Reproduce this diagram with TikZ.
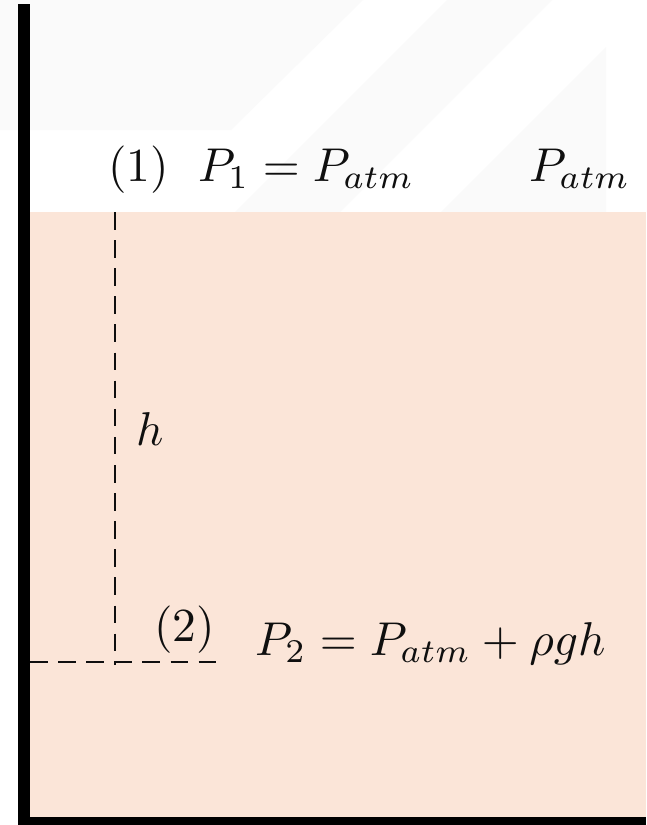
\documentclass[tikz,border=0pt]{standalone}
\usepackage{tikz}
\usetikzlibrary{positioning}
\definecolor{hsLiquid}{RGB}{251,229,216}
\definecolor{hsWall}{RGB}{0,0,0}
\definecolor{hsMark}{RGB}{15,15,15}
\definecolor{hsFaint}{RGB}{250,250,250}
\tikzset{
    base/.style={font=\normalsize, inner sep=0pt, outer sep=0pt, scale=2.7, transform shape},
    eqn/.style={base, anchor=base west, text=hsMark},
    tag/.style={base, anchor=base west, text=hsMark},
    level/.style={hsMark, line width=1.3pt, dash pattern=on 10pt off 6pt},
    wall/.style={fill=hsWall, draw=none}
}

\begin{document}
\begin{tikzpicture}[x=0.02cm, y=-0.02cm]
  \useasboundingbox (0,0) rectangle (646,825);
  \fill[white] (0,0) rectangle (646,825);

  % faint watermark behind the tank
  \fill[hsFaint] (0,0) -- (363,0) -- (231,130) -- (0,130) -- cycle;
  \fill[hsFaint] (447,0) -- (552,0) -- (340,212) -- (235,212) -- cycle;
  \fill[hsFaint] (606,47) -- (606,212) -- (441,212) -- cycle;

  % liquid
  \fill[hsLiquid] (30,212) rectangle (646,817);

  % tank wall and bottom
  \fill[wall] (18,4) rectangle (30,825);
  \fill[wall] (18,817) rectangle (646,825);

  % points on the free surface and at depth h
  \coordinate (pt1) at (115,212);
  \coordinate (pt2) at (115,665);
  \coordinate (lvlL) at (30,662);
  \coordinate (lvlR) at (217,662);
  \draw[level] (pt1) -- (pt2);
  \draw[level] (lvlL) -- (lvlR);

  % labels
  \node[tag] (tag1) at (108,181) {(1)};
  \node[eqn] (eq1) at (198,181) {$P_1 = P_{atm}$};
  \node[eqn] (patm) at (529,181) {$P_{atm}$};
  \node[eqn] (hlab) at (136,445) {$h$};
  \node[tag] (tag2) at (154,641) {(2)};
  \node[eqn] (eq2) at (255,655) {$P_2 = P_{atm} + \rho g h$};
\end{tikzpicture}
\end{document}
